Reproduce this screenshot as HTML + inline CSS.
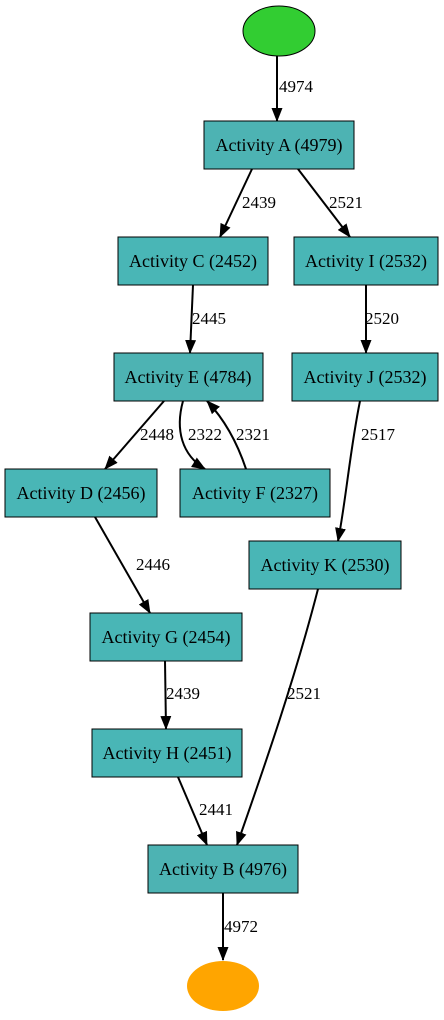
<!DOCTYPE html>
<html><head><style>body{margin:0;background:#fff}</style></head><body>
<svg width="444" height="1015" xmlns="http://www.w3.org/2000/svg" font-family="Liberation Serif, serif" font-size="18">
<defs><marker id="a" markerWidth="14" markerHeight="11" refX="13" refY="5.5" orient="auto" markerUnits="userSpaceOnUse"><path d="M0,0 L14,5.5 L0,11z" fill="#000"/></marker></defs>
<rect width="444" height="1015" fill="#fff"/>
<ellipse cx="279" cy="31" rx="36" ry="25" fill="#32cd32" stroke="#000"/>
<ellipse cx="223" cy="986" rx="36" ry="25" fill="#ffa500"/>
<g stroke="#000" stroke-width="2" fill="none" marker-end="url(#a)">
<path d="M277,56 L277,121"/>
<path d="M252,169 L220,237"/>
<path d="M298,169 L350,237"/>
<path d="M193,285 L190,353"/>
<path d="M366,285 L366,353"/>
<path d="M164,401 L105,469"/>
<path d="M183,401 C175,430 182,455 205,469"/>
<path d="M246,469 C238,445 225,420 207,401"/>
<path d="M360,401 C350,450 346,500 338,541"/>
<path d="M95,517 L150,613"/>
<path d="M318,589 C292,690 256,790 237,845"/>
<path d="M165,661 L166,729"/>
<path d="M178,777 L207,845"/>
<path d="M223,893 L223,960"/>
</g>
<g stroke="#000" fill="#49b6b6">
<rect x="204" y="121" width="150" height="48" fill="#4db3b3"/>
<rect x="118" y="237" width="150" height="48"/>
<rect x="294" y="237" width="144" height="48"/>
<rect x="114" y="353" width="149" height="48" fill="#4db3b3"/>
<rect x="292" y="353" width="146" height="48"/>
<rect x="5" y="469" width="152" height="48"/>
<rect x="180" y="469" width="150" height="48"/>
<rect x="249" y="541" width="152" height="48"/>
<rect x="90" y="613" width="152" height="48"/>
<rect x="92" y="729" width="150" height="48"/>
<rect x="148" y="845" width="150" height="48" fill="#4db3b3"/>
</g>
<g text-anchor="middle" fill="#000">
<text x="279" y="151">Activity A (4979)</text>
<text x="193" y="267">Activity C (2452)</text>
<text x="366" y="267">Activity I (2532)</text>
<text x="188" y="383">Activity E (4784)</text>
<text x="365" y="383">Activity J (2532)</text>
<text x="81" y="499">Activity D (2456)</text>
<text x="255" y="499">Activity F (2327)</text>
<text x="325" y="571">Activity K (2530)</text>
<text x="166" y="643">Activity G (2454)</text>
<text x="167" y="759">Activity H (2451)</text>
<text x="223" y="875">Activity B (4976)</text>
</g>
<g fill="#000" font-size="17">
<text x="279" y="92">4974</text>
<text x="242" y="208">2439</text>
<text x="329" y="208">2521</text>
<text x="192" y="324">2445</text>
<text x="365" y="324">2520</text>
<text x="140" y="440">2448</text>
<text x="188" y="440">2322</text>
<text x="236" y="440">2321</text>
<text x="361" y="440">2517</text>
<text x="136" y="570">2446</text>
<text x="287" y="699">2521</text>
<text x="166" y="699">2439</text>
<text x="199" y="815">2441</text>
<text x="224" y="932">4972</text>
</g>
</svg>
</body></html>
